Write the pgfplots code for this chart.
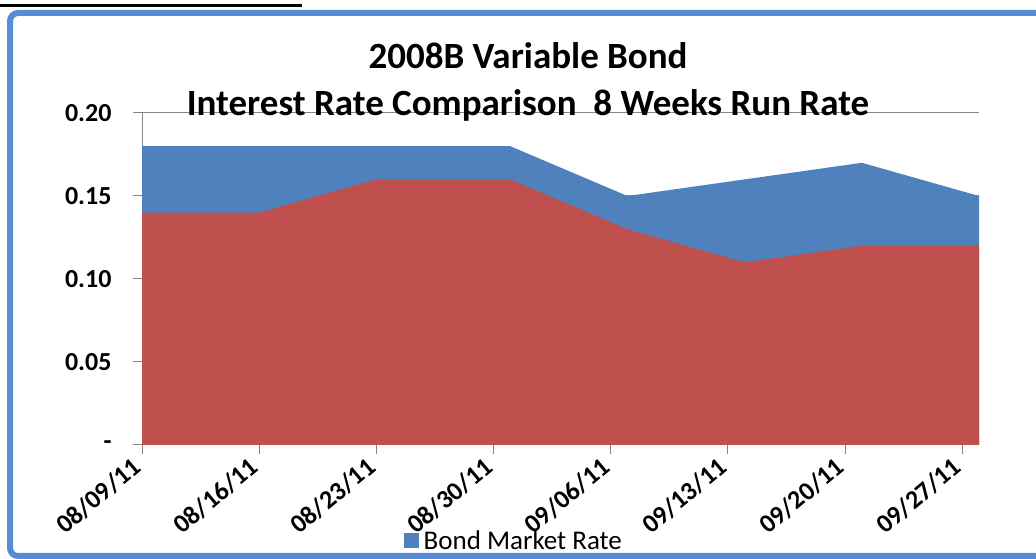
\documentclass[border=0pt]{standalone}
\usepackage{fontspec}
\setmainfont{Carlito}
\usepackage{pgfplots}
\pgfplotsset{compat=1.18}
\definecolor{xlblue}{HTML}{4F81BD}
\definecolor{xlred}{HTML}{C0504D}
\definecolor{frameblue}{HTML}{558ED5}
\definecolor{axgray}{HTML}{868686}
\begin{document}
\begin{tikzpicture}
\path[use as bounding box] (0,0) rectangle (1036bp,559bp);
\begin{axis}[
  at={(142bp,114bp)}, anchor=south west,
  scale only axis, width=837bp, height=332bp,
  xmin=0, xmax=50, ymin=0, ymax=0.2,
  axis lines*=left,
  axis line style={axgray, line width=1bp},
  ymajorgrids, grid style={axgray, line width=1bp},
  ytick={0,0.05,0.1,0.15,0.2},
  yticklabels={{-}\hspace{22bp},0.05,0.10,0.15,0.20},
  xtick={0,7,14,21,28,35,42,49},
  xticklabels={08/09/11,08/16/11,08/23/11,08/30/11,09/06/11,09/13/11,09/20/11,09/27/11},
  tick align=outside, major tick length=9bp,
  tick style={axgray, line width=1bp},
  ticklabel style={font=\fontsize{26bp}{30bp}\selectfont\bfseries},
  /pgf/number format/assume math mode=true,
  yticklabel style={xshift=-18bp},
  xticklabel style={xshift=-2bp, yshift=-7bp, rotate=40, anchor=east},
  legend image code/.code={\fill[#1] (0bp,-7bp) rectangle (15bp,8bp);},
  legend style={at={(0.446,-0.289)}, anchor=center, draw=none, fill=none,
    font=\fontsize{27bp}{30bp}\selectfont, inner sep=0pt,
    nodes={inner xsep=5bp}},
]
\addplot[fill=xlblue, draw=none] coordinates {
  (0,0.18) (7,0.18) (14,0.18) (22,0.18) (29,0.15) (36,0.16) (43,0.17) (50,0.15)
} \closedcycle;
\addlegendentry{Bond Market Rate}
\addplot[fill=xlred, draw=none, forget plot] coordinates {
  (0,0.14) (7,0.14) (14,0.16) (22,0.16) (29,0.13) (36,0.11) (43,0.12) (50,0.12)
} \closedcycle;
\end{axis}
\node[align=center, font=\fontsize{37bp}{47bp}\selectfont\bfseries] at (528bp,477bp)
  {2008B Variable Bond\\Interest Rate Comparison\ \ 8 Weeks Run Rate};
\fill[black] (0,552bp) rectangle (302bp,555bp);
\draw[frameblue, line width=6bp, rounded corners=8bp] (10bp,3bp) rectangle (1060bp,546bp);
\end{tikzpicture}
\end{document}
